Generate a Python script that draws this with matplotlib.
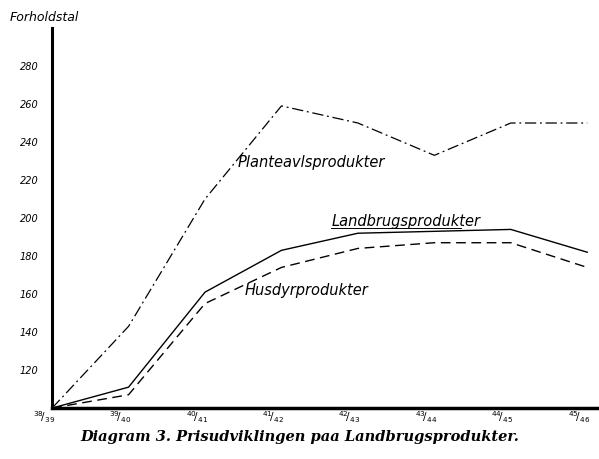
import matplotlib
matplotlib.use("Agg")
import matplotlib.pyplot as plt
from matplotlib.transforms import ScaledTranslation

years = [r"$^{38}\!/_{39}$", r"$^{39}\!/_{40}$", r"$^{40}\!/_{41}$", r"$^{41}\!/_{42}$",
         r"$^{42}\!/_{43}$", r"$^{43}\!/_{44}$", r"$^{44}\!/_{45}$", r"$^{45}\!/_{46}$"]
planteavl = [100, 143, 210, 259, 250, 233, 250, 250]
landbrug = [100, 111, 161, 183, 192, 193, 194, 182]
husdyr = [100, 107, 155, 174, 184, 187, 187, 174]
yticks = [120, 140, 160, 180, 200, 220, 240, 260, 280]

fig = plt.figure(figsize=(5.99, 4.59), dpi=100)
ax = fig.add_axes([0.087, 0.111, 0.91, 0.828])
x = list(range(len(years)))
ax.plot(x, planteavl, color="black", lw=0.9, ls=(0, (9, 3, 1.5, 3)))
ax.plot(x, landbrug, color="black", lw=1.0, ls="-")
ax.plot(x, husdyr, color="black", lw=1.0, ls=(0, (7, 4)))

ax.set_xlim(0, 7.13)
ax.set_ylim(100, 300)
for s in ["top", "right"]:
    ax.spines[s].set_visible(False)
ax.spines["left"].set_linewidth(2.2)
ax.spines["bottom"].set_linewidth(2.5)
ax.set_yticks(yticks)
ax.set_yticklabels([str(v) for v in yticks], fontsize=7, style="italic")
ax.tick_params(axis="y", length=0, pad=10)
ax.set_xticks(x)
ax.set_xticklabels(years, fontsize=7.5)
ax.tick_params(axis="x", length=0, pad=1)
shift = ScaledTranslation(-6 / 72, 0, fig.dpi_scale_trans)
for lb in ax.get_xticklabels():
    lb.set_transform(lb.get_transform() + shift)
ax.text(-0.1, 302, "Forholdstal", fontsize=9, style="italic", ha="center", va="bottom")

ax.text(2.42, 229, "Planteavlsprodukter", fontsize=10.5, style="italic", ha="left", va="center")
ax.text(3.65, 198, "Landbrugsprodukter", fontsize=10.5, style="italic", ha="left", va="center")
ax.plot([3.65, 5.35], [194.8, 194.8], color="black", lw=0.7)
ax.text(2.52, 162, "Husdyrprodukter", fontsize=10.5, style="italic", ha="left", va="center")

fig.text(0.5, 0.048, "Diagram 3. Prisudviklingen paa Landbrugsprodukter.",
         fontsize=10.5, family="DejaVu Serif", style="italic", weight="bold", ha="center", va="center")

fig.savefig("out.png", dpi=100, facecolor="white")
